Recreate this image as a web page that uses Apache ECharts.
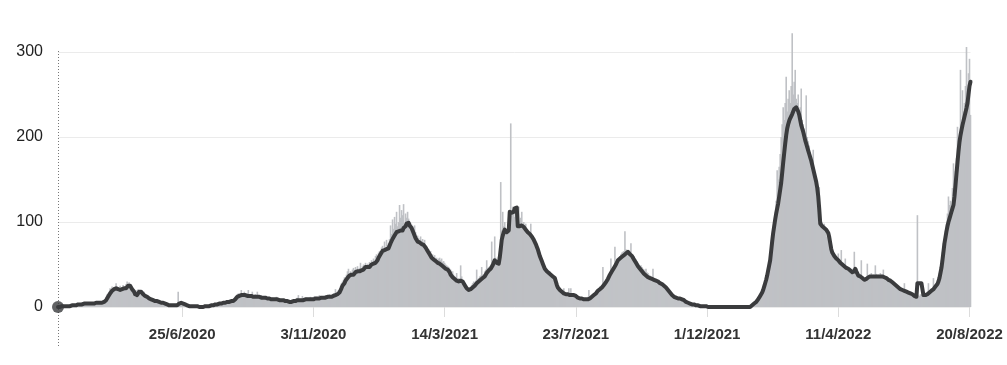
<!DOCTYPE html>
<html>
<head>
<meta charset="utf-8">
<script src="https://cdn.jsdelivr.net/npm/echarts@6/dist/echarts.min.js"></script>
<style>
html,body{margin:0;padding:0;background:#fff;}
#chart{width:1007px;height:365px;}
</style>
</head>
<body>
<div id="chart"></div>
<script>
// First day of the series (day index 0)
const startDate = [2020, 2, 22];

// Labelled dates on the x axis
const tickLabels = ['25/6/2020','3/11/2020','14/3/2021','23/7/2021','1/12/2021','11/4/2022','20/8/2022'];

// Y axis ticks
const yTicks = [0, 100, 200, 300];

// Daily values (gray bars)
const dailyValues = [
0,0,0,1,0,2,1,1,0,2,
1,2,1,3,2,1,3,2,2,4,
3,4,2,3,5,3,4,3,5,4,
4,6,3,5,4,5,3,6,5,4,
6,5,7,4,6,8,7,9,12,15,
16,18,22,20,24,19,23,21,28,24,
18,22,25,23,20,26,22,24,27,30,
26,29,24,20,22,18,15,12,16,20,
21,17,20,16,15,13,18,12,11,14,
10,9,12,8,7,10,6,9,7,5,
7,5,6,4,7,3,5,4,3,4,
2,3,1,3,2,1,2,3,1,2,
18,4,5,3,6,2,4,3,1,2,
1,2,0,1,2,1,0,1,2,1,
0,1,0,0,1,0,1,2,1,0,
2,1,3,2,1,3,2,4,3,2,
4,5,3,5,6,4,7,5,6,8,
7,5,8,6,9,7,10,12,13,15,
16,14,15,20,13,15,18,14,13,16,
20,12,14,13,18,11,13,15,12,18,
13,10,12,14,11,9,13,12,10,11,
9,12,10,8,11,9,10,7,12,8,
7,9,10,6,8,7,9,6,7,8,
5,7,6,8,5,6,9,7,8,11,
14,8,9,7,13,10,9,8,11,9,
10,8,12,9,11,8,13,10,12,9,
11,14,9,12,10,13,11,14,12,13,
11,15,13,12,14,16,13,21,15,18,
20,19,24,28,30,32,35,33,38,42,
45,40,42,38,44,46,41,47,44,48,
43,46,52,44,48,50,47,52,49,51,
50,53,49,55,52,57,54,60,62,58,
64,66,61,70,72,68,77,70,79,73,
75,80,96,86,103,92,106,98,112,95,
100,120,105,114,108,121,98,110,105,112,
104,100,99,97,95,90,96,88,80,84,
81,79,83,78,80,76,79,72,70,67,
68,64,66,60,62,58,61,57,58,55,
57,58,55,57,53,54,52,50,49,48,
47,45,44,40,42,38,36,35,40,33,
34,32,49,36,30,28,27,26,24,22,
21,23,24,26,28,30,29,31,44,33,
34,36,37,47,38,39,42,44,55,46,
47,48,50,77,52,56,83,58,55,54,
60,70,147,90,112,95,100,88,92,98,
104,110,216,108,118,112,106,115,110,100,
118,99,105,112,96,100,94,98,92,90,
88,86,98,84,82,80,79,76,72,70,
62,59,56,53,50,47,45,44,43,42,
40,42,37,38,36,35,33,30,27,24,
23,21,20,19,18,22,17,16,15,14,
22,15,22,14,13,15,12,14,13,12,
11,12,10,11,9,10,11,9,10,12,
20,11,13,14,15,16,17,19,20,21,
22,24,23,25,47,27,30,31,33,35,
37,40,57,42,45,48,71,50,53,55,
58,60,62,64,65,66,89,68,66,67,
65,64,75,62,59,60,57,56,54,52,
50,48,49,47,45,44,42,45,41,40,
38,37,36,35,45,34,33,32,31,30,
32,29,28,27,26,25,24,22,22,21,
20,18,17,16,15,14,13,12,12,11,
10,11,10,9,8,8,7,6,5,5,
4,4,3,3,3,2,2,2,2,1,
2,1,1,1,1,0,1,1,0,0,
0,0,1,0,0,0,0,1,0,0,
0,0,0,0,1,0,0,0,0,0,
0,1,0,0,0,0,0,0,1,0,
0,0,0,1,0,0,0,0,0,1,
0,1,1,2,3,4,6,7,8,10,
12,14,16,18,22,26,30,35,40,47,
52,58,66,75,86,97,110,125,161,150,
165,180,200,215,235,220,240,271,230,245,
255,240,260,322,250,265,279,245,240,250,
230,235,257,220,215,210,205,249,200,195,
190,180,175,170,185,150,145,140,135,130,
141,120,102,100,95,98,90,83,88,80,
75,72,67,65,63,60,62,58,57,63,
55,53,67,50,52,48,57,46,47,45,
44,46,42,45,40,65,44,41,39,40,
38,36,55,35,34,33,34,35,51,37,
38,37,40,36,38,37,49,39,37,38,
36,40,38,37,44,36,35,34,34,33,
33,32,31,30,29,28,27,26,25,24,
23,22,21,21,20,28,19,19,18,18,
17,16,16,15,14,13,12,13,108,14,
13,15,14,16,15,14,16,17,18,28,
19,20,22,21,34,24,26,28,30,35,
40,48,55,65,75,80,90,98,110,130,
120,125,115,140,169,150,160,175,212,190,
200,279,210,255,230,240,260,306,255,275,
292,226
];

// 7-day average (dark line)
const averageValues = [
0,0,0,1,1,1,1,1,1,1,
1,1,1,2,2,2,2,2,2,3,
3,3,3,3,3,3,4,4,4,4,
4,4,4,4,4,4,4,5,5,5,
5,5,5,5,5,6,6,6,8,10,
12,14,16,18,19,20,21,21,22,22,
21,20,20,21,21,22,22,21,22,24,
25,26,25,23,21,20,18,15,13,14,
16,18,19,18,17,15,14,13,12,12,
11,10,10,9,8,8,8,7,7,7,
6,6,6,5,5,5,4,4,3,3,
3,2,2,2,2,2,2,2,2,2,
3,4,5,5,4,4,3,3,2,2,
2,1,1,1,1,1,1,1,1,1,
0,0,0,0,0,0,1,1,1,1,
1,1,2,2,2,2,2,3,3,3,
3,4,4,4,5,5,5,5,6,6,
6,6,6,7,7,7,8,9,10,12,
13,13,14,14,14,14,14,14,14,13,
13,13,13,13,13,12,12,12,12,12,
12,12,11,11,11,11,11,11,10,10,
10,10,10,9,9,9,9,9,9,9,
8,8,8,8,8,8,8,7,7,7,
6,6,6,6,6,7,7,7,8,8,
8,8,8,8,8,8,8,9,9,9,
9,9,9,9,9,9,10,10,10,10,
10,10,10,11,11,11,11,11,12,12,
12,12,12,12,12,13,13,14,14,15,
16,17,19,22,25,27,28,31,33,34,
36,37,36,38,39,38,40,41,40,42,
43,42,44,43,45,44,46,47,45,47,
48,47,49,50,48,51,50,52,54,55,
58,59,62,63,66,64,67,65,68,66,
69,72,75,77,80,81,84,85,88,87,
89,91,90,92,90,93,94,95,98,97,
99,96,97,93,92,87,86,81,80,77,
78,76,77,74,76,73,74,70,69,66,
66,62,62,58,59,56,57,54,55,52,
54,51,52,49,50,47,48,45,46,44,
43,41,38,36,35,34,33,32,31,31,
30,30,31,32,30,28,26,24,22,21,
20,20,21,22,23,24,25,26,28,29,
30,31,32,33,34,35,36,38,40,42,
43,44,45,47,49,52,55,54,52,51,
51,58,68,79,84,88,91,90,88,87,
90,112,114,111,110,112,116,118,117,95,
94,95,96,96,95,94,92,91,89,88,
87,86,85,83,81,79,77,74,71,68,
64,60,57,54,51,48,45,43,42,41,
40,39,38,37,36,35,34,30,26,23,
22,20,19,18,17,16,15,15,15,15,
14,14,14,14,14,14,14,13,12,11,
11,10,10,10,9,9,9,9,9,9,
10,10,11,12,13,14,15,16,18,19,
20,21,22,23,24,26,28,29,31,33,
35,38,39,42,43,46,47,50,51,55,
56,57,58,59,60,61,62,63,64,65,
65,62,63,60,60,56,56,52,52,48,
48,45,46,42,43,39,40,37,38,35,
35,34,34,33,33,32,31,31,30,30,
29,28,28,27,26,25,24,23,22,20,
19,17,16,14,13,12,12,11,11,10,
10,10,10,9,9,8,7,6,6,5,
5,4,4,3,3,3,2,2,2,2,
2,1,1,1,1,1,1,1,1,0,
0,0,0,0,0,0,0,0,0,0,
0,0,0,0,0,0,0,0,0,0,
0,0,0,0,0,0,0,0,0,0,
0,0,0,0,0,0,0,0,0,0,
0,0,1,2,3,4,5,6,7,9,
11,13,15,17,20,24,28,32,37,43,
49,55,66,77,87,95,103,110,116,122,
130,138,146,158,170,181,192,202,210,215,
219,222,224,227,230,233,234,235,233,230,
226,220,214,210,206,201,196,192,188,184,
180,176,172,167,162,157,152,147,140,130,
115,98,96,95,94,93,92,91,89,87,
82,75,68,64,62,60,58,57,56,55,
54,52,53,50,51,48,49,46,48,45,
46,43,44,41,43,42,45,42,40,37,
37,36,35,34,33,32,32,33,34,35,
36,36,36,36,36,36,36,36,36,36,
36,36,36,36,35,35,34,34,33,32,
32,31,30,29,28,27,26,25,24,23,
22,21,20,20,19,19,18,18,17,17,
16,16,15,15,14,13,13,12,28,28,
28,28,28,28,14,14,14,15,15,16,
17,18,19,20,21,22,24,25,27,30,
34,40,46,55,65,75,82,89,95,100,
104,108,112,116,120,130,143,157,170,183,
194,202,208,214,219,224,229,234,240,250,
260,265
];

// Day categories built from the start date
const categories = [];
{
  const t0 = Date.UTC(startDate[0], startDate[1] - 1, startDate[2]);
  for (let i = 0; i < dailyValues.length; i++) {
    const d = new Date(t0 + i * 86400000);
    categories.push(d.getUTCDate() + '/' + (d.getUTCMonth() + 1) + '/' + d.getUTCFullYear());
  }
}

const FONT = "'Liberation Sans', Arial, Helvetica, sans-serif";
const isTick = (idx, val) => tickLabels.indexOf(categories[idx]) >= 0;

const chart = echarts.init(document.getElementById('chart'), null, {renderer: 'canvas'});
chart.setOption({
  animation: false,
  backgroundColor: '#fff',
  grid: {left: 58, right: 36.5, top: 52, bottom: 58, containLabel: false},
  xAxis: {
    type: 'category',
    data: categories,
    boundaryGap: false,
    axisLine: {show: false},
    axisTick: {show: true, interval: isTick, length: 10, lineStyle: {color: '#dcdcdc', width: 1}},
    axisLabel: {
      interval: isTick, margin: 20,
      fontFamily: FONT, fontSize: 15, fontWeight: 'bold', color: '#333'
    },
    splitLine: {show: false}
  },
  yAxis: {
    type: 'value',
    min: yTicks[0], max: yTicks[yTicks.length - 1], interval: yTicks[1] - yTicks[0],
    axisLine: {show: false},
    axisTick: {show: false},
    axisLabel: {margin: 15, fontFamily: FONT, fontSize: 16, color: '#222'},
    splitLine: {lineStyle: {color: '#ebebeb', width: 1}}
  },
  series: [
    {
      name: 'daily', type: 'bar', data: dailyValues,
      barWidth: 1.6, clip: false, silent: true,
      itemStyle: {color: '#bfc1c5'}
    },
    {
      name: 'avg', type: 'line', data: averageValues,
      showSymbol: false, symbol: 'none', clip: false, silent: true,
      lineStyle: {color: '#3a3b3d', width: 4, join: 'round', cap: 'round'}
    },
    {
      name: 'start', type: 'scatter', data: [[0, averageValues[0]]],
      symbol: 'circle', symbolSize: 12, silent: true, z: 5,
      itemStyle: {color: '#3a3b3d'}
    }
  ]
});

// dotted vertical start line (extends below the axis)
const pTop = chart.convertToPixel({xAxisIndex: 0, yAxisIndex: 0}, [0, yTicks[yTicks.length - 1]]);
const pBot = chart.convertToPixel({xAxisIndex: 0, yAxisIndex: 0}, [0, yTicks[0]]);
chart.setOption({
  graphic: [{
    type: 'line', z: 1, silent: true,
    shape: {x1: Math.round(pTop[0]) + 0.5, y1: pTop[1] - 1, x2: Math.round(pTop[0]) + 0.5, y2: pBot[1] + 40},
    style: {stroke: '#777', lineWidth: 1, lineDash: [1, 2]}
  }]
});
</script>
</body>
</html>
